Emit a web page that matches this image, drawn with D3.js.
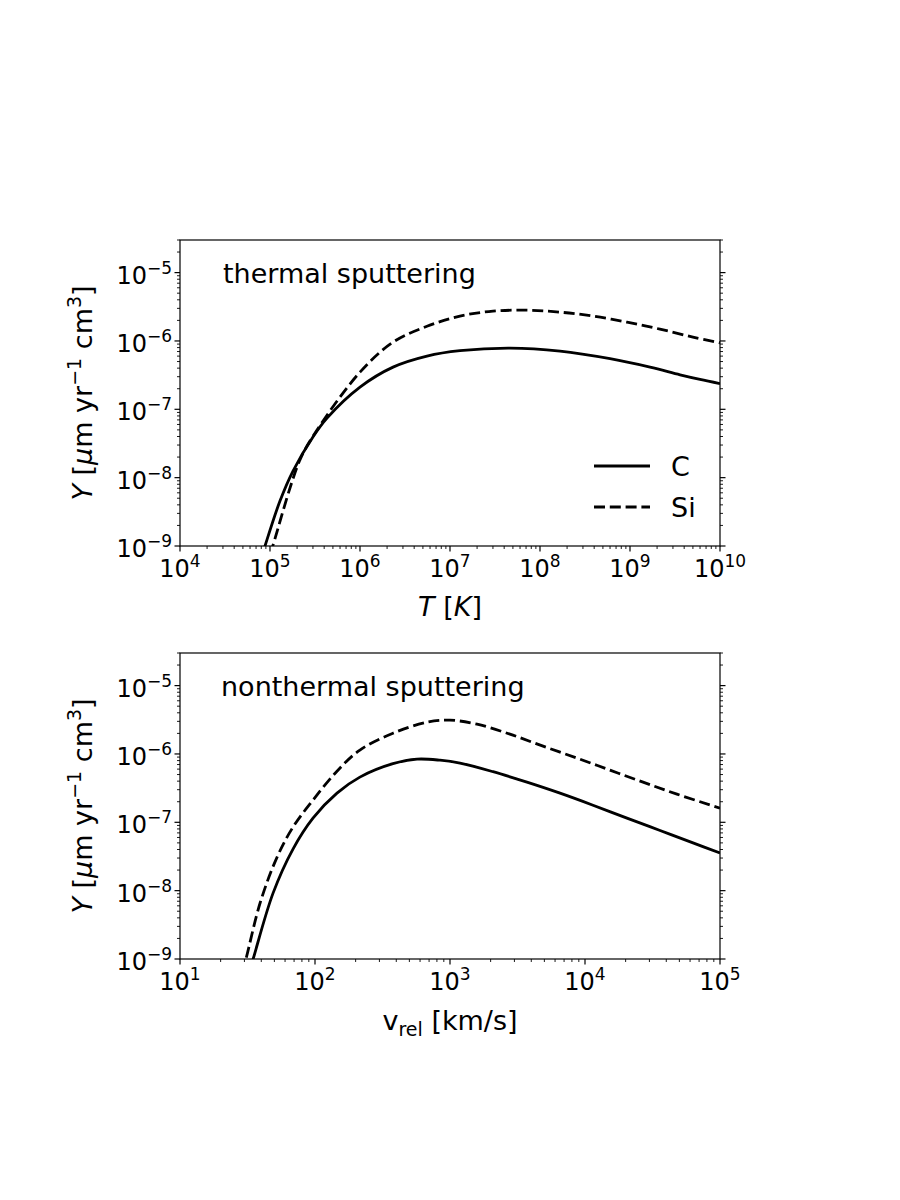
<!DOCTYPE html>
<html><head><meta charset="utf-8">
<script src="https://cdn.jsdelivr.net/npm/d3@7"></script>
<style>
body{margin:0;background:#fff}
text{font-family:"DejaVu Sans",sans-serif;fill:#000}
</style>
</head><body>
<svg id="c" width="900" height="1200" xmlns="http://www.w3.org/2000/svg"></svg>
<script>
// ---------- data ----------
const thermalT_C  = [7.9e4, 8.8e4, 1.29e5, 1.8e5, 3.0e5, 4.3e5, 1.0e6, 2.33e6, 5.55e6, 1.29e7, 4.64e7, 1.67e8, 6.0e8, 1.67e9, 3.6e9, 6.0e9, 1.0e10];
const thermalY_C  = [6.3e-10, 1.0e-9, 4.55e-9, 1.25e-8, 3.93e-8, 7.43e-8, 2.11e-7, 4.14e-7, 6.0e-7, 7.2e-7, 7.85e-7, 7.1e-7, 5.5e-7, 4.14e-7, 3.2e-7, 2.74e-7, 2.38e-7];
const thermalT_Si = [1.0e5, 1.08e5, 2.15e5, 3.33e5, 1.0e6, 2.33e6, 5.55e6, 1.29e7, 3.0e7, 7.18e7, 1.67e8, 3.88e8, 9.27e8, 2.15e9, 5.0e9, 1.0e10];
const thermalY_Si = [7.6e-10, 1.03e-9, 1.81e-8, 4.97e-8, 3.5e-7, 9.6e-7, 1.64e-6, 2.31e-6, 2.73e-6, 2.82e-6, 2.64e-6, 2.31e-6, 1.88e-6, 1.49e-6, 1.14e-6, 9.4e-7];

const nonthV_C  = [32.4, 34.8, 48.9, 68.7, 96.6, 145.5, 215, 378, 570, 843, 1186, 2084, 3715, 6531, 11460, 20460, 35970, 63100, 1e5];
const nonthY_C  = [6.3e-10, 1.0e-9, 9.2e-9, 4.06e-8, 1.15e-7, 2.67e-7, 4.58e-7, 7.2e-7, 8.4e-7, 8.1e-7, 7.35e-7, 5.5e-7, 3.87e-7, 2.67e-7, 1.78e-7, 1.15e-7, 7.6e-8, 5.0e-8, 3.55e-8];
const nonthV_Si = [28.8, 30.8, 39.2, 52.4, 68.7, 96.6, 145.5, 215, 378, 676, 1000, 1585, 2780, 4890, 8730, 15310, 26920, 47970, 1e5];
const nonthY_Si = [6.3e-10, 1.0e-9, 6.6e-9, 3.1e-8, 8.5e-8, 2.11e-7, 5.6e-7, 1.14e-6, 2.01e-6, 2.92e-6, 3.12e-6, 2.73e-6, 1.95e-6, 1.30e-6, 8.7e-7, 5.8e-7, 3.87e-7, 2.58e-7, 1.61e-7];

const yDomain = [1e-9, 3e-5];
const thermalXDomain = [1e4, 1e10];
const nonthXDomain = [1e1, 1e5];
const seriesNames = ["C", "Si"];
const panelTitles = ["thermal sputtering", "nonthermal sputtering"];

// ---------- layout ----------
const svg = d3.select("#c");
const L = 180, R = 720;
const TICKF = 24, SUPF = 17, LABF = 27;
const MAJ = 5.5, MIN = 3;

function supLabel(sel, exp) {
  sel.append("tspan").text("10");
  sel.append("tspan").attr("font-size", SUPF).attr("dy", -10)
     .text(String(exp).replace("-", "\u2212"));
}

function panel(idx, top, bottom, xDomain, data) {
  const x = d3.scaleLog().domain(xDomain).range([L, R]);
  const y = d3.scaleLog().domain(yDomain).range([bottom, top]);
  const g = svg.append("g");
  const cid = "clip" + idx;
  svg.append("defs").append("clipPath").attr("id", cid)
     .append("rect").attr("x", L).attr("y", top).attr("width", R - L).attr("height", bottom - top);

  const line = d3.line().x(d => x(d[0])).y(d => y(d[1])).curve(d3.curveCatmullRom.alpha(0.5));
  data.forEach((s, i) => {
    g.append("path").attr("clip-path", `url(#${cid})`)
      .attr("d", line(s.xs.map((v, k) => [v, s.ys[k]])))
      .attr("fill", "none").attr("stroke", "#000").attr("stroke-width", 2.8)
      .attr("stroke-dasharray", i === 1 ? "11,4.8" : null);
  });

  const isMaj = v => Math.abs(Math.log10(v) - Math.round(Math.log10(v))) < 1e-9;
  x.ticks().forEach(v => {
    const X = x(v), m = isMaj(v);
    g.append("line").attr("x1", X).attr("x2", X).attr("y1", bottom).attr("y2", bottom + (m ? MAJ : MIN))
      .attr("stroke", "#000").attr("stroke-width", m ? 1.2 : 0.9);
    if (m) {
      const t = g.append("text").attr("x", X).attr("y", bottom + 31)
        .attr("text-anchor", "middle").attr("font-size", TICKF);
      supLabel(t, Math.round(Math.log10(v)));
    }
  });
  y.ticks().forEach(v => {
    const Y = y(v), m = isMaj(v);
    [[L, -1], [R, 1]].forEach(([xx, dir]) => {
      g.append("line").attr("x1", xx).attr("x2", xx + dir * (m ? MAJ : MIN)).attr("y1", Y).attr("y2", Y)
        .attr("stroke", "#000").attr("stroke-width", m ? 1.2 : 0.9);
    });
    if (m) {
      const t = g.append("text").attr("x", 172).attr("y", Y + 11)
        .attr("text-anchor", "end").attr("font-size", TICKF);
      supLabel(t, Math.round(Math.log10(v)));
    }
  });
  g.append("rect").attr("x", L).attr("y", top).attr("width", R - L).attr("height", bottom - top)
    .attr("fill", "none").attr("stroke", "#000").attr("stroke-width", 1.2);

  g.append("text").attr("x", idx === 0 ? 223 : 221).attr("y", top + 43)
    .attr("font-size", LABF).text(panelTitles[idx]);

  const yl = g.append("text").attr("transform", `translate(92,${(top + bottom) / 2}) rotate(-90)`)
    .attr("text-anchor", "middle").attr("font-size", LABF);
  yl.append("tspan").attr("font-style", "italic").text("Y");
  yl.append("tspan").text(" [");
  yl.append("tspan").attr("font-style", "italic").text("\u03bc");
  yl.append("tspan").text("m yr");
  yl.append("tspan").attr("font-size", 19).attr("dy", -11).text("\u22121");
  yl.append("tspan").attr("dy", 11).text(" cm");
  yl.append("tspan").attr("font-size", 19).attr("dy", -11).text("3");
  yl.append("tspan").attr("dy", 11).text("]");
  return {x, y, g};
}

panel(0, 240, 546, thermalXDomain, [
  {xs: thermalT_C, ys: thermalY_C}, {xs: thermalT_Si, ys: thermalY_Si}]);
panel(1, 653, 959, nonthXDomain, [
  {xs: nonthV_C, ys: nonthY_C}, {xs: nonthV_Si, ys: nonthY_Si}]);

const xl1 = svg.append("text").attr("x", 450).attr("y", 616).attr("text-anchor", "middle").attr("font-size", LABF);
xl1.append("tspan").attr("font-style", "italic").text("T");
xl1.append("tspan").text(" [");
xl1.append("tspan").attr("font-style", "italic").text("K");
xl1.append("tspan").text("]");

const xl2 = svg.append("text").attr("x", 450).attr("y", 1030).attr("text-anchor", "middle").attr("font-size", LABF);
xl2.append("tspan").text("v");
xl2.append("tspan").attr("font-size", 19).attr("dy", 6).text("rel");
xl2.append("tspan").attr("dy", -6).text(" [km/s]");

const lg = svg.append("g");
seriesNames.forEach((n, i) => {
  const yy = 466 + i * 41;
  lg.append("line").attr("x1", 594).attr("x2", 650).attr("y1", yy).attr("y2", yy)
    .attr("stroke", "#000").attr("stroke-width", 2.8)
    .attr("stroke-dasharray", i === 1 ? "11,4.8" : null);
  lg.append("text").attr("x", 671).attr("y", yy + 10).attr("font-size", LABF).text(n);
});
</script>
</body></html>
